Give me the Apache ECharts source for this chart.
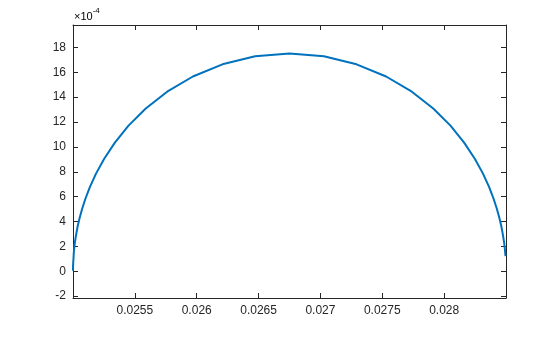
<!DOCTYPE html>
<html>
<head>
<meta charset="utf-8">
<script src="https://cdn.jsdelivr.net/npm/echarts@6/dist/echarts.min.js"></script>
<style>
  html, body { margin: 0; padding: 0; background: #fff; }
  #chart { width: 560px; height: 337px; }
</style>
</head>
<body>
<div id="chart"></div>
<script>
// 曲线数据（x: 实部, y: 以 1e-4 为单位）
var xValues = [
  0.028496, 0.028494, 0.028492, 0.028489, 0.028485, 0.028479, 0.028471, 0.028461,
  0.028446, 0.028426, 0.028399, 0.028363, 0.028314, 0.028249, 0.028163, 0.028053,
  0.027912, 0.027739, 0.027531, 0.027292, 0.027028, 0.026750, 0.026472, 0.026208,
  0.025969, 0.025761, 0.025588, 0.025447, 0.025337, 0.025251, 0.025186, 0.025137,
  0.025101, 0.025074, 0.025054, 0.025039, 0.025029, 0.025021, 0.025015, 0.025011,
  0.025008, 0.025006, 0.025004, 0.025002, 0.025001, 0.025000, 0.025000, 0.025000
];
var yValues = [
  1.21, 1.43, 1.67, 1.96, 2.30, 2.69, 3.15, 3.68,
  4.31, 5.03, 5.85, 6.79, 7.85, 9.03, 10.32, 11.69,
  13.08, 14.44, 15.66, 16.64, 17.28, 17.50, 17.28, 16.64,
  15.66, 14.44, 13.08, 11.69, 10.32, 9.03, 7.85, 6.79,
  5.85, 5.03, 4.31, 3.68, 3.15, 2.69, 2.30, 1.96,
  1.67, 1.43, 1.03, 0.75, 0.47, 0.29, 0.13, 0.04
];
var xTicks = [0.0255, 0.026, 0.0265, 0.027, 0.0275, 0.028];
var yTicks = [-2, 0, 2, 4, 6, 8, 10, 12, 14, 16, 18];

var points = xValues.map(function (x, i) { return [x, yValues[i]]; });

var axisColor = '#262626';
var font = { fontFamily: 'Liberation Sans, Arial, sans-serif', fontSize: 12, color: axisColor };

function xAxisCfg(pos, showLabel) {
  return {
    type: 'value', position: pos, min: 0.025, max: 0.0285,
    axisLine: { show: true, onZero: false, lineStyle: { color: axisColor, width: 1 } },
    axisTick: { show: true, inside: true, length: 5, customValues: xTicks, lineStyle: { color: axisColor } },
    axisLabel: {
      show: showLabel, customValues: xTicks, margin: 7,
      fontFamily: font.fontFamily, fontSize: font.fontSize, color: font.color,
      formatter: function (v) { return String(+v.toFixed(4)); }
    },
    splitLine: { show: false }
  };
}
function yAxisCfg(pos, showLabel) {
  return {
    type: 'value', position: pos, min: -2.15, max: 19.8,
    axisLine: { show: true, onZero: false, lineStyle: { color: axisColor, width: 1 } },
    axisTick: { show: true, inside: true, length: 5, customValues: yTicks, lineStyle: { color: axisColor } },
    axisLabel: {
      show: showLabel, customValues: yTicks, margin: 7,
      fontFamily: font.fontFamily, fontSize: font.fontSize, color: font.color,
      formatter: function (v) { return String(Math.round(v)); }
    },
    splitLine: { show: false }
  };
}

var myChart = echarts.init(document.getElementById('chart'), null, { renderer: 'canvas' });
var option = {
  animation: false,
  backgroundColor: '#fff',
  grid: { left: 73, right: 54, top: 25, bottom: 39, containLabel: false },
  xAxis: [xAxisCfg('bottom', true), xAxisCfg('top', false)],
  yAxis: [yAxisCfg('left', true), yAxisCfg('right', false)],
  graphic: [{
    type: 'text', left: 74, top: 7,
    style: {
      text: '{a|×10}{b|-4}',
      rich: {
        a: { fontFamily: font.fontFamily, fontSize: 11, color: axisColor, verticalAlign: 'bottom', padding: [4, 0, 0, 0] },
        b: { fontFamily: font.fontFamily, fontSize: 8, color: axisColor, verticalAlign: 'top', padding: [0, 0, 6, 0] }
      }
    }
  }],
  series: [{
    type: 'line',
    data: points,
    showSymbol: false,
    smooth: false,
    clip: true,
    lineStyle: { color: '#0072BD', width: 2 }
  }]
};
myChart.setOption(option);
</script>
</body>
</html>
